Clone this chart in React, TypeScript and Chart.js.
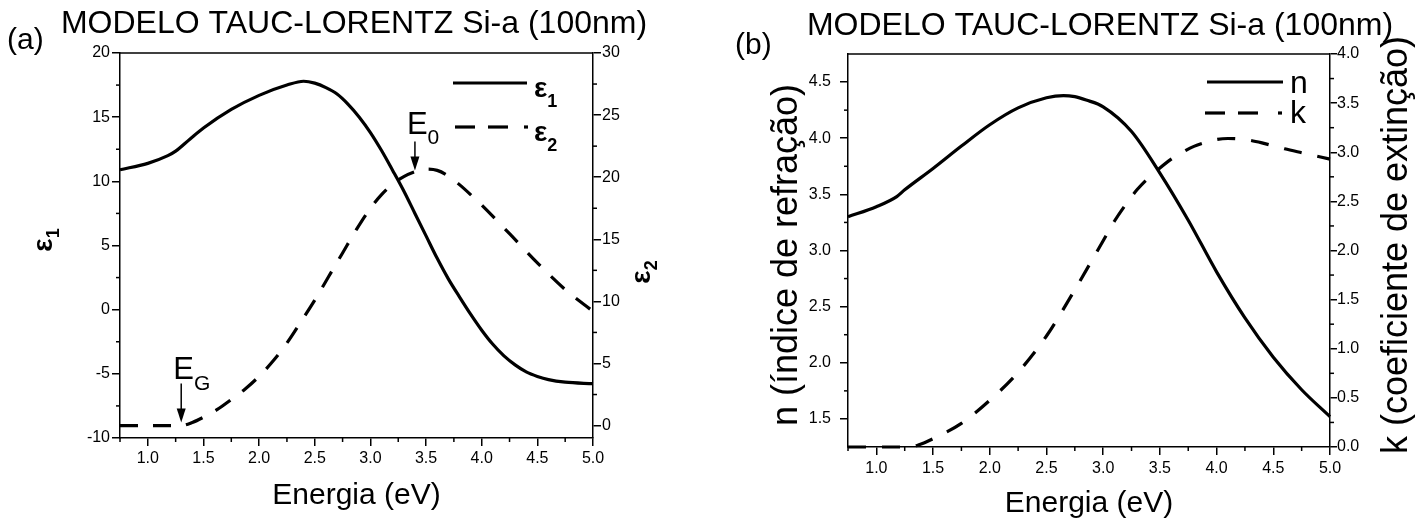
import React, { useEffect, useRef } from 'react';
import { Chart, registerables } from 'chart.js';

Chart.register(...registerables);

// ---------------- DATA ----------------
const energyEps1 = [0.75, 1.0, 1.18, 1.25, 1.38, 1.5, 1.75, 2.0, 2.25, 2.4, 2.5, 2.6, 2.7, 2.8, 2.9, 3.0, 3.1, 3.2, 3.3, 3.4, 3.5, 3.6, 3.7, 3.8, 3.9, 4.0, 4.1, 4.2, 4.3, 4.4, 4.5, 4.6, 4.75, 5.0];
const eps1 = [10.9, 11.4, 12.0, 12.35, 13.3, 14.15, 15.6, 16.7, 17.5, 17.8, 17.65, 17.3, 16.8, 16.0, 15.0, 13.8, 12.4, 10.85, 9.25, 7.5, 5.75, 4.0, 2.4, 1.0, -0.35, -1.6, -2.7, -3.6, -4.3, -4.85, -5.2, -5.45, -5.65, -5.77];

const energyEps2 = [0.75, 1.3, 1.4, 1.5, 1.625, 1.75, 1.875, 2.0, 2.125, 2.25, 2.375, 2.5, 2.625, 2.75, 2.875, 3.0, 3.1, 3.2, 3.3, 3.4, 3.5, 3.6, 3.7, 3.8, 3.9, 4.0, 4.25, 4.5, 4.75, 5.0];
const eps2 = [0, 0, 0.25, 0.67, 1.3, 2.1, 2.95, 3.97, 5.2, 6.65, 8.35, 10.1, 12.0, 13.9, 15.8, 17.5, 18.6, 19.45, 20.05, 20.45, 20.65, 20.55, 20.1, 19.4, 18.6, 17.75, 15.45, 13.1, 10.95, 9.2];

const energyN = [0.75, 1.0, 1.18, 1.25, 1.5, 1.75, 2.0, 2.25, 2.5, 2.65, 2.75, 2.85, 3.0, 3.25, 3.5, 3.75, 4.0, 4.25, 4.5, 4.75, 5.0];
const nValues = [3.30, 3.39, 3.48, 3.54, 3.73, 3.93, 4.12, 4.27, 4.36, 4.38, 4.37, 4.34, 4.28, 4.06, 3.69, 3.27, 2.81, 2.40, 2.05, 1.76, 1.52];

const energyK = [0.75, 1.3, 1.37, 1.5, 1.75, 2.0, 2.25, 2.5, 2.75, 3.0, 3.1, 3.2, 3.3, 3.4, 3.5, 3.6, 3.7, 3.8, 3.9, 4.0, 4.1, 4.2, 4.3, 4.4, 4.5, 4.6, 4.75, 5.0];
const kValues = [0, 0, 0.02, 0.085, 0.24, 0.475, 0.76, 1.13, 1.6, 2.1, 2.3, 2.47, 2.62, 2.74, 2.84, 2.93, 3.0, 3.06, 3.1, 3.13, 3.14, 3.135, 3.12, 3.095, 3.065, 3.035, 2.995, 2.93];

const xTicks = [1.0, 1.5, 2.0, 2.5, 3.0, 3.5, 4.0, 4.5, 5.0];
const xMinor = [0.75, 1.25, 1.75, 2.25, 2.75, 3.25, 3.75, 4.25, 4.75];
const eps1Ticks = [-10, -5, 0, 5, 10, 15, 20];
const eps1Minor = [-7.5, -2.5, 2.5, 7.5, 12.5, 17.5];
const eps2Ticks = [0, 5, 10, 15, 20, 25, 30];
const eps2Minor = [2.5, 7.5, 12.5, 17.5, 22.5, 27.5];
const nTicks = [1.5, 2.0, 2.5, 3.0, 3.5, 4.0, 4.5];
const nMinor = [1.75, 2.25, 2.75, 3.25, 3.75, 4.25];
const kTicks = [0.0, 0.5, 1.0, 1.5, 2.0, 2.5, 3.0, 3.5, 4.0];
const kMinor = [0.25, 0.75, 1.25, 1.75, 2.25, 2.75, 3.25, 3.75];

const titleText = 'MODELO TAUC-LORENTZ Si-a (100nm)';
const xTitle = 'Energia (eV)';
const nTitle = 'n (índice de refração)';
const kTitle = 'k (coeficiente de extinção)';
const panelA = '(a)';
const panelB = '(b)';
const E0 = 3.4;
const E0Value = 20.45;
const EG = 1.3;

// ---------------- STYLE ----------------
const FONT = "'Liberation Sans', Arial, sans-serif";
const MAJOR_LEN = 8;
const MINOR_LEN = 4;
const AXIS_W = 1.5;

function pts(xs: number[], ys: number[]) {
  return xs.map((x, i) => ({ x, y: ys[i] }));
}

function text(ctx: CanvasRenderingContext2D, s: string, x: number, y: number, font: string, align: CanvasTextAlign = 'left', baseline: CanvasTextBaseline = 'alphabetic', rot = 0) {
  ctx.save();
  ctx.translate(x, y);
  if (rot) ctx.rotate(rot);
  ctx.font = font;
  ctx.textAlign = align;
  ctx.textBaseline = baseline;
  ctx.fillStyle = '#000';
  ctx.fillText(s, 0, 0);
  ctx.restore();
}

function subText(ctx: CanvasRenderingContext2D, main: string, sub: string, x: number, y: number, mainFont: string, subFont: string, subDy: number, rot = 0, centered = false) {
  ctx.save();
  ctx.translate(x, y);
  if (rot) ctx.rotate(rot);
  ctx.font = mainFont;
  const w1 = ctx.measureText(main).width;
  ctx.font = subFont;
  const w2 = ctx.measureText(sub).width;
  const x0 = centered ? -(w1 + w2) / 2 : 0;
  ctx.fillStyle = '#000';
  ctx.textAlign = 'left';
  ctx.textBaseline = 'alphabetic';
  ctx.font = mainFont;
  ctx.fillText(main, x0, 0);
  ctx.font = subFont;
  ctx.fillText(sub, x0 + w1, subDy);
  ctx.restore();
}

function arrowDown(ctx: CanvasRenderingContext2D, x: number, y1: number, y2: number) {
  ctx.save();
  ctx.strokeStyle = '#000';
  ctx.fillStyle = '#000';
  ctx.lineWidth = 1.5;
  ctx.beginPath();
  ctx.moveTo(x, y1);
  ctx.lineTo(x, y2 - 12);
  ctx.stroke();
  ctx.beginPath();
  ctx.moveTo(x - 4.5, y2 - 14);
  ctx.lineTo(x + 4.5, y2 - 14);
  ctx.lineTo(x, y2);
  ctx.closePath();
  ctx.fill();
  ctx.restore();
}

function hline(ctx: CanvasRenderingContext2D, x1: number, x2: number, y: number, w: number) {
  ctx.save();
  ctx.strokeStyle = '#000';
  ctx.lineWidth = w;
  ctx.beginPath();
  ctx.moveTo(x1, y);
  ctx.lineTo(x2, y);
  ctx.stroke();
  ctx.restore();
}

type Minor = { axis: string; values: number[] };

function framePlugin(minors: Minor[], extras: (ctx: CanvasRenderingContext2D, chart: any) => void) {
  return {
    id: 'frameAndText',
    afterDraw(chart: any) {
      const ctx: CanvasRenderingContext2D = chart.ctx;
      const a = chart.chartArea;
      ctx.save();
      ctx.strokeStyle = '#000';
      ctx.lineWidth = AXIS_W;
      ctx.beginPath();
      ctx.moveTo(a.left, a.top);
      ctx.lineTo(a.right, a.top);
      ctx.stroke();
      for (const m of minors) {
        const s = chart.scales[m.axis];
        for (const v of m.values) {
          const p = s.getPixelForValue(v);
          ctx.beginPath();
          if (m.axis === 'x') {
            ctx.moveTo(p, a.bottom);
            ctx.lineTo(p, a.bottom + MINOR_LEN);
          } else if (m.axis === 'y') {
            ctx.moveTo(a.left, p);
            ctx.lineTo(a.left - MINOR_LEN, p);
          } else {
            ctx.moveTo(a.right, p);
            ctx.lineTo(a.right + MINOR_LEN, p);
          }
          ctx.stroke();
        }
      }
      ctx.restore();
      extras(ctx, chart);
    },
  };
}

function axis(opts: { min: number; max: number; ticks: number[]; position: string; fit: number; padding: number; digits: number; tickLen?: number }) {
  const isX = opts.position === 'bottom';
  return {
    type: 'linear',
    position: opts.position,
    min: opts.min,
    max: opts.max,
    afterBuildTicks: (s: any) => {
      s.ticks = opts.ticks.map((v) => ({ value: v }));
    },
    afterFit: (s: any) => {
      if (isX) s.height = opts.fit;
      else s.width = opts.fit;
    },
    ticks: {
      font: { family: FONT, size: 16 },
      color: '#000',
      padding: opts.padding,
      autoSkip: false,
      maxRotation: 0,
      callback: (v: any) => Number(v).toFixed(opts.digits),
    },
    grid: {
      display: true,
      drawOnChartArea: false,
      drawTicks: true,
      tickLength: opts.tickLen ?? MAJOR_LEN,
      color: '#000',
      tickColor: '#000',
      tickWidth: AXIS_W,
      lineWidth: AXIS_W,
    },
    border: { display: true, color: '#000', width: AXIS_W },
  };
}

function buildLeft(canvas: HTMLCanvasElement) {
  const extras = (ctx: CanvasRenderingContext2D, chart: any) => {
    const a = chart.chartArea;
    const sx = chart.scales.x;
    const sy1 = chart.scales.y1;
    text(ctx, panelA, 7, 41, `30px ${FONT}`, 'left', 'middle');
    text(ctx, titleText, 354, 24, `32px ${FONT}`, 'center', 'middle');
    text(ctx, xTitle, (a.left + a.right) / 2, 496, `30px ${FONT}`, 'center', 'middle');
    subText(ctx, 'ε', '1', 52, 240, `bold 28px ${FONT}`, `bold 18px ${FONT}`, 7, -Math.PI / 2, true);
    subText(ctx, 'ε', '2', 650, 272, `bold 28px ${FONT}`, `bold 18px ${FONT}`, 7, -Math.PI / 2, true);
    // legend
    hline(ctx, 453, 527, 83, 3.2);
    subText(ctx, 'ε', '1', 534, 97, `bold 28px ${FONT}`, `bold 18px ${FONT}`, 10);
    hline(ctx, 455, 475, 127, 3.2);
    hline(ctx, 488, 508, 127, 3.2);
    hline(ctx, 524, 528, 127, 3.2);
    subText(ctx, 'ε', '2', 534, 141, `bold 28px ${FONT}`, `bold 18px ${FONT}`, 10);
    // annotations
    const xe0 = sx.getPixelForValue(E0);
    const ye0 = sy1.getPixelForValue(E0Value);
    subText(ctx, 'E', '0', xe0 - 8, ye0 - 38, `31px ${FONT}`, `21px ${FONT}`, 10);
    arrowDown(ctx, xe0, ye0 - 30, ye0 - 1);
    const xeg = sx.getPixelForValue(EG);
    const yeg = sy1.getPixelForValue(0);
    subText(ctx, 'E', 'G', xeg - 8, yeg - 47, `31px ${FONT}`, `21px ${FONT}`, 11);
    arrowDown(ctx, xeg, yeg - 42, yeg - 3);
  };
  return new Chart(canvas, {
    type: 'line',
    data: {
      datasets: [
        {
          label: 'ε1',
          data: pts(energyEps1, eps1),
          yAxisID: 'y',
          borderColor: '#000',
          borderWidth: 3.2,
          pointRadius: 0,
          cubicInterpolationMode: 'monotone',
          fill: false,
          clip: 4,
        },
        {
          label: 'ε2',
          data: pts(energyEps2, eps2),
          yAxisID: 'y1',
          borderColor: '#000',
          borderWidth: 3.2,
          borderDash: [18, 15],
          pointRadius: 0,
          cubicInterpolationMode: 'monotone',
          fill: false,
          clip: 4,
        },
      ],
    },
    options: {
      animation: false,
      responsive: false,
      devicePixelRatio: 1,
      events: [],
      layout: { padding: { top: 53, left: 0, right: 0, bottom: 0 } },
      plugins: { legend: { display: false }, tooltip: { enabled: false } },
      scales: {
        x: axis({ min: 0.75, max: 5.0, ticks: xTicks, position: 'bottom', fit: 85, padding: 3, digits: 1 }),
        y: axis({ min: -10, max: 20, ticks: eps1Ticks, position: 'left', fit: 120, padding: 2, digits: 0 }),
        y1: axis({ min: -1, max: 30, ticks: eps2Ticks, position: 'right', fit: 115, padding: 1, digits: 0 }),
      },
    } as any,
    plugins: [
      framePlugin(
        [
          { axis: 'x', values: xMinor },
          { axis: 'y', values: eps1Minor },
          { axis: 'y1', values: eps2Minor },
        ],
        extras
      ) as any,
    ],
  } as any);
}

function buildRight(canvas: HTMLCanvasElement) {
  const extras = (ctx: CanvasRenderingContext2D, chart: any) => {
    const a = chart.chartArea;
    text(ctx, panelB, 27, 46, `30px ${FONT}`, 'left', 'middle');
    text(ctx, titleText, 392, 26, `32px ${FONT}`, 'center', 'middle');
    text(ctx, xTitle, (a.left + a.right) / 2, 504, `30px ${FONT}`, 'center', 'middle');
    text(ctx, nTitle, 79, 255, `36px ${FONT}`, 'center', 'middle', -Math.PI / 2);
    text(ctx, kTitle, 689, 245, `36px ${FONT}`, 'center', 'middle', -Math.PI / 2);
    // legend
    hline(ctx, 499, 575, 82, 3.2);
    text(ctx, 'n', 582, 93, `32px ${FONT}`, 'left', 'alphabetic');
    hline(ctx, 497, 517, 113, 3.2);
    hline(ctx, 530, 550, 113, 3.2);
    hline(ctx, 570, 574, 113, 3.2);
    text(ctx, 'k', 582, 123, `32px ${FONT}`, 'left', 'alphabetic');
  };
  return new Chart(canvas, {
    type: 'line',
    data: {
      datasets: [
        {
          label: 'n',
          data: pts(energyN, nValues),
          yAxisID: 'y',
          borderColor: '#000',
          borderWidth: 3.2,
          pointRadius: 0,
          cubicInterpolationMode: 'monotone',
          fill: false,
          clip: 4,
        },
        {
          label: 'k',
          data: pts(energyK, kValues),
          yAxisID: 'y1',
          borderColor: '#000',
          borderWidth: 3.2,
          borderDash: [18, 16],
          pointRadius: 0,
          cubicInterpolationMode: 'monotone',
          fill: false,
          clip: 4,
        },
      ],
    },
    options: {
      animation: false,
      responsive: false,
      devicePixelRatio: 1,
      events: [],
      layout: { padding: { top: 54, left: 0, right: 0, bottom: 0 } },
      plugins: { legend: { display: false }, tooltip: { enabled: false } },
      scales: {
        x: axis({ min: 0.75, max: 5.0, ticks: xTicks, position: 'bottom', fit: 76, padding: 4, digits: 1 }),
        y: axis({ min: 1.25, max: 4.75, ticks: nTicks, position: 'left', fit: 140, padding: 9, digits: 1 }),
        y1: axis({ min: 0, max: 4, ticks: kTicks, position: 'right', fit: 86, padding: 0, digits: 1, tickLen: 7 }),
      },
    } as any,
    plugins: [
      framePlugin(
        [
          { axis: 'x', values: xMinor },
          { axis: 'y', values: nMinor },
          { axis: 'y1', values: kMinor },
        ],
        extras
      ) as any,
    ],
  } as any);
}

export default function App() {
  const leftRef = useRef<HTMLCanvasElement>(null);
  const rightRef = useRef<HTMLCanvasElement>(null);
  useEffect(() => {
    const c1 = buildLeft(leftRef.current!);
    const c2 = buildRight(rightRef.current!);
    return () => {
      c1.destroy();
      c2.destroy();
    };
  }, []);
  return (
    <div style={{ position: 'absolute', left: 0, top: 0, width: 1416, height: 523, background: '#fff', overflow: 'hidden' }}>
      <canvas ref={leftRef} width={708} height={523} style={{ position: 'absolute', left: 0, top: 0 }} />
      <canvas ref={rightRef} width={708} height={523} style={{ position: 'absolute', left: 708, top: 0 }} />
    </div>
  );
}
